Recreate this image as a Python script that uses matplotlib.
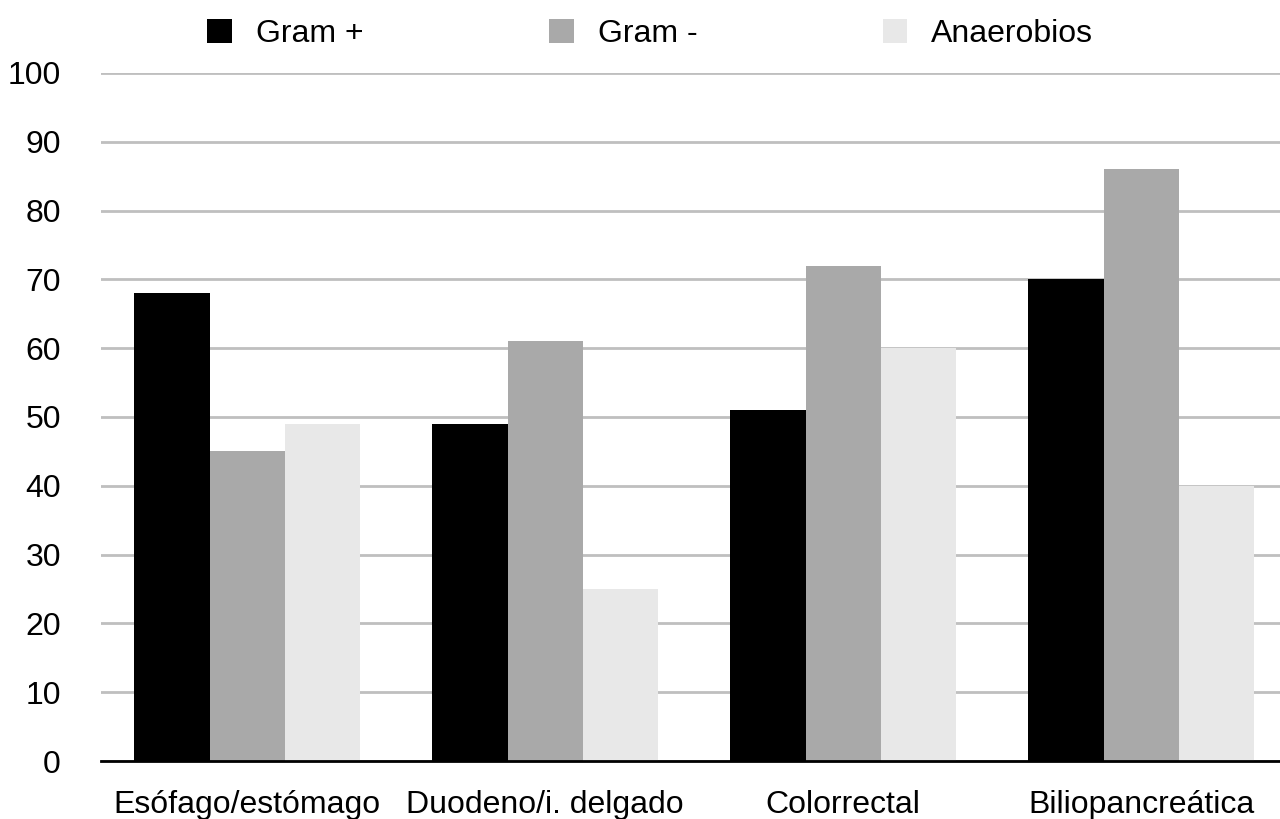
import numpy as np
import matplotlib.pyplot as plt

plt.rcParams['font.family'] = ['Liberation Sans', 'DejaVu Sans']

categories = ["Esófago/estómago", "Duodeno/i. delgado", "Colorrectal", "Biliopancreática"]
gram_pos = [68, 49, 51, 70]
gram_neg = [45, 61, 72, 86]
anaerobios = [49, 25, 60, 40]

series = [("Gram +", gram_pos, "#000000"),
          ("Gram -", gram_neg, "#a9a9a9"),
          ("Anaerobios", anaerobios, "#e8e8e8")]

fig = plt.figure(figsize=(12.8, 8.19), dpi=100)
ax = fig.add_axes([0.079, 0.0708, 0.921, 0.8402])

x = np.arange(len(categories))
w = 0.252
for i, (name, vals, color) in enumerate(series):
    ax.bar(x + (i - 1) * w, vals, width=w, color=color, label=name, zorder=2)

ax.set_ylim(0, 100)
ax.set_xlim(-0.49, 3.466)
ax.set_yticks(range(0, 101, 10))
ax.set_xticks(x)
ax.set_xticklabels(categories)
ax.yaxis.grid(True, color="#bfbfbf", linewidth=2, zorder=0)
ax.set_axisbelow(True)
for s in ["top", "right", "left"]:
    ax.spines[s].set_visible(False)
ax.spines["bottom"].set_linewidth(2)
ax.spines["bottom"].set_zorder(3)
ax.tick_params(axis="both", length=0, labelsize=23)
ax.tick_params(axis="y", pad=29)
ax.tick_params(axis="x", pad=21)

fig.legend(loc="center left", bbox_to_anchor=(0.1617, 0.958), ncol=3, frameon=False,
           fontsize=23, handlelength=0.78, handleheight=0.78, handletextpad=0.75,
           columnspacing=5.8, borderpad=0, borderaxespad=0)

fig.savefig("out.png", dpi=100)
